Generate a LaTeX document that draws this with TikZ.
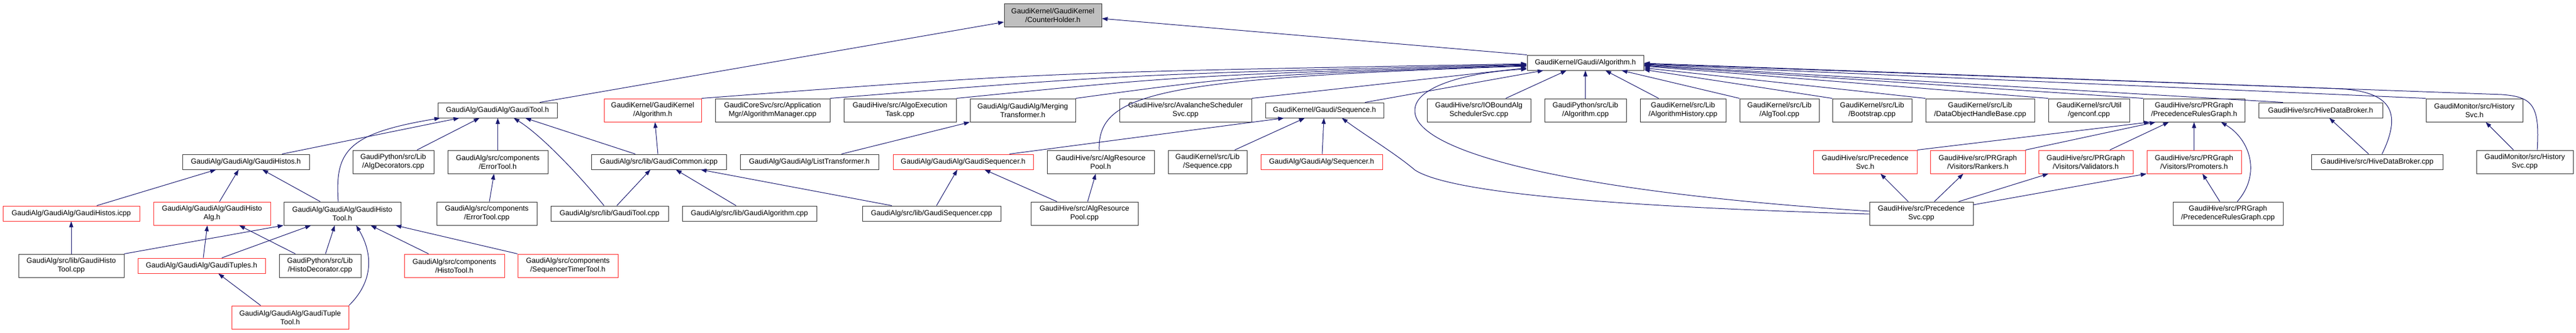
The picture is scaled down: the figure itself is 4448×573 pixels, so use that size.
\documentclass[tikz,border=0pt]{standalone}
\usepackage{fontspec}
\setmainfont{Liberation Sans}
\usetikzlibrary{arrows.meta}
\definecolor{edgec}{RGB}{25,25,112}
\definecolor{redb}{RGB}{255,40,40}
\definecolor{grayf}{RGB}{191,191,191}
\tikzset{
  nb/.style={draw=black!80, line width=1pt, rectangle, inner sep=0pt, align=center,
     font=\fontsize{12.6}{15}\selectfont},
  rb/.style={nb, draw=redb},
  e/.style={draw=edgec, line width=1pt, -{Triangle[length=10pt,width=7pt]}},
}
\begin{document}
\begin{tikzpicture}[x=1pt,y=-1pt]
\useasboundingbox (0,0) rectangle (4448,573);
% row 0
\node[nb, fill=grayf, minimum width=168pt, minimum height=40pt] (ch) at (1818,26) {GaudiKernel/GaudiKernel\\/CounterHolder.h};
% row 1
\node[nb, minimum width=201pt, minimum height=26pt] (alg) at (2737.5,108) {GaudiKernel/Gaudi/Algorithm.h};
% row 2
\node[nb, minimum width=206pt, minimum height=26pt] (gtool) at (859,190) {GaudiAlg/GaudiAlg/GaudiTool.h};
\node[rb, minimum width=168pt, minimum height=40pt] (kalg) at (1127,190) {GaudiKernel/GaudiKernel\\/Algorithm.h};
\node[nb, minimum width=198pt, minimum height=40pt] (amgr) at (1334,190) {GaudiCoreSvc/src/Application\\Mgr/AlgorithmManager.cpp};
\node[nb, minimum width=194pt, minimum height=40pt] (aexec) at (1554,190) {GaudiHive/src/AlgoExecution\\Task.cpp};
\node[nb, minimum width=182pt, minimum height=40pt] (mtrans) at (1766,190) {GaudiAlg/GaudiAlg/Merging\\Transformer.h};
\node[nb, minimum width=228pt, minimum height=40pt] (aval) at (2047,190) {GaudiHive/src/AvalancheScheduler\\Svc.cpp};
\node[nb, minimum width=204pt, minimum height=26pt] (seqh) at (2287,190) {GaudiKernel/Gaudi/Sequence.h};
\node[nb, minimum width=179pt, minimum height=40pt] (iob) at (2553.5,190) {GaudiHive/src/IOBoundAlg\\SchedulerSvc.cpp};
\node[nb, minimum width=141pt, minimum height=40pt] (pyalg) at (2737.5,190) {GaudiPython/src/Lib\\/Algorithm.cpp};
\node[nb, minimum width=148pt, minimum height=40pt] (ahist) at (2906,190) {GaudiKernel/src/Lib\\/AlgorithmHistory.cpp};
\node[nb, minimum width=137pt, minimum height=40pt] (atool) at (3072.5,190) {GaudiKernel/src/Lib\\/AlgTool.cpp};
\node[nb, minimum width=137pt, minimum height=40pt] (boot) at (3232.5,190) {GaudiKernel/src/Lib\\/Bootstrap.cpp};
\node[nb, minimum width=188pt, minimum height=40pt] (dohb) at (3419,190) {GaudiKernel/src/Lib\\/DataObjectHandleBase.cpp};
\node[nb, minimum width=140pt, minimum height=40pt] (genc) at (3607,190) {GaudiKernel/src/Util\\/genconf.cpp};
\node[nb, minimum width=175pt, minimum height=40pt] (prgh) at (3788.5,190) {GaudiHive/src/PRGraph\\/PrecedenceRulesGraph.h};
\node[nb, minimum width=214pt, minimum height=26pt] (hdbh) at (4007,190) {GaudiHive/src/HiveDataBroker.h};
\node[nb, minimum width=167pt, minimum height=40pt] (hsvch) at (4272.5,190) {GaudiMonitor/src/History\\Svc.h};
% row 3
\node[nb, minimum width=219pt, minimum height=26pt] (ghistos) at (424.5,279) {GaudiAlg/GaudiAlg/GaudiHistos.h};
\node[nb, minimum width=140pt, minimum height=40pt] (algdec) at (679,279) {GaudiPython/src/Lib\\/AlgDecorators.cpp};
\node[nb, minimum width=173pt, minimum height=40pt] (errh) at (859.5,279) {GaudiAlg/src/components\\/ErrorTool.h};
\node[nb, minimum width=233pt, minimum height=26pt] (gcommon) at (1137.5,279) {GaudiAlg/src/lib/GaudiCommon.icpp};
\node[nb, minimum width=239pt, minimum height=26pt] (ltrans) at (1397.5,279) {GaudiAlg/GaudiAlg/ListTransformer.h};
\node[rb, minimum width=242pt, minimum height=26pt] (gseqh) at (1663,279) {GaudiAlg/GaudiAlg/GaudiSequencer.h};
\node[nb, minimum width=185pt, minimum height=40pt] (arph) at (1900.5,279) {GaudiHive/src/AlgResource\\Pool.h};
\node[nb, minimum width=136pt, minimum height=40pt] (seqcpp) at (2085,279) {GaudiKernel/src/Lib\\/Sequence.cpp};
\node[rb, minimum width=210pt, minimum height=26pt] (seqrh) at (2282,279) {GaudiAlg/GaudiAlg/Sequencer.h};
\node[rb, minimum width=179pt, minimum height=40pt] (psvch) at (3220.5,279) {GaudiHive/src/Precedence\\Svc.h};
\node[rb, minimum width=164pt, minimum height=40pt] (rank) at (3415,279) {GaudiHive/src/PRGraph\\/Visitors/Rankers.h};
\node[rb, minimum width=163pt, minimum height=40pt] (valid) at (3601.5,279) {GaudiHive/src/PRGraph\\/Visitors/Validators.h};
\node[rb, minimum width=163pt, minimum height=40pt] (promo) at (3788.5,279) {GaudiHive/src/PRGraph\\/Visitors/Promoters.h};
\node[nb, minimum width=227pt, minimum height=26pt] (hdbcpp) at (4104.5,279) {GaudiHive/src/HiveDataBroker.cpp};
\node[nb, minimum width=167pt, minimum height=40pt] (hsvccpp) at (4359.5,279) {GaudiMonitor/src/History\\Svc.cpp};
% row 4
\node[rb, minimum width=236pt, minimum height=26pt] (ghicpp) at (123,368) {GaudiAlg/GaudiAlg/GaudiHistos.icpp};
\node[rb, minimum width=202pt, minimum height=40pt] (ghalg) at (366,368) {GaudiAlg/GaudiAlg/GaudiHisto\\Alg.h};
\node[nb, minimum width=202pt, minimum height=40pt] (ghtool) at (591,368) {GaudiAlg/GaudiAlg/GaudiHisto\\Tool.h};
\node[nb, minimum width=173pt, minimum height=40pt] (errcpp) at (840.5,368) {GaudiAlg/src/components\\/ErrorTool.cpp};
\node[nb, minimum width=203pt, minimum height=26pt] (gtoolcpp) at (1052.5,368) {GaudiAlg/src/lib/GaudiTool.cpp};
\node[nb, minimum width=232pt, minimum height=26pt] (galgcpp) at (1294,368) {GaudiAlg/src/lib/GaudiAlgorithm.cpp};
\node[nb, minimum width=239pt, minimum height=26pt] (gseqcpp) at (1608.5,368) {GaudiAlg/src/lib/GaudiSequencer.cpp};
\node[nb, minimum width=185pt, minimum height=40pt] (arpcpp) at (1872.5,368) {GaudiHive/src/AlgResource\\Pool.cpp};
\node[nb, minimum width=179pt, minimum height=40pt] (psvccpp) at (3317.5,368) {GaudiHive/src/Precedence\\Svc.cpp};
\node[nb, minimum width=190pt, minimum height=40pt] (prgcpp) at (3847,368) {GaudiHive/src/PRGraph\\/PrecedenceRulesGraph.cpp};
% row 5
\node[nb, minimum width=182pt, minimum height=40pt] (ghtcpp) at (123,458) {GaudiAlg/src/lib/GaudiHisto\\Tool.cpp};
\node[rb, minimum width=220pt, minimum height=26pt] (gtuples) at (348,458) {GaudiAlg/GaudiAlg/GaudiTuples.h};
\node[nb, minimum width=141pt, minimum height=40pt] (histodec) at (552.5,458) {GaudiPython/src/Lib\\/HistoDecorator.cpp};
\node[rb, minimum width=173pt, minimum height=40pt] (htool) at (784.5,458) {GaudiAlg/src/components\\/HistoTool.h};
\node[rb, minimum width=173pt, minimum height=40pt] (sttool) at (980.5,458) {GaudiAlg/src/components\\/SequencerTimerTool.h};
% row 6
\node[rb, minimum width=202pt, minimum height=40pt] (gttool) at (501,547) {GaudiAlg/GaudiAlg/GaudiTuple\\Tool.h};

% ---- edges ----
\draw[e] (932,0 |- gtool.north) -- (ch.west |- 0,38);
\draw[e] (alg.north west) -- (ch.east |- 0,32);
% into Algorithm.h from the left
\draw[e] (kalg.north east) .. controls (1800,125) .. (alg.west |- 0,110);
\draw[e] (amgr.north east) .. controls (1950,128) .. (alg.west |- 0,111);
\draw[e] (aexec.north east) .. controls (2050,130) .. (alg.west |- 0,112);
\draw[e] (mtrans.north east) .. controls (2150,130) .. (alg.west |- 0,113);
\draw[e] (1898,0 |- arph.north) .. controls (1895,160) and (2000,135) .. (alg.west |- 0,114);
\draw[e] (aval.north east) -- (alg.west |- 0,117);
\draw[e] (psvccpp.west |- 0,364) .. controls (2700,330) and (2440,260) .. (2443,190) .. controls (2443,150) and (2530,125) .. (alg.west |- 0,119);
\draw[e] (2357,0 |- seqh.north) -- (2665,0 |- alg.south);
\draw[e] (2600,0 |- iob.north) -- (2705,0 |- alg.south);
\draw[e] (pyalg.north) -- (pyalg.north |- alg.south);
\draw[e] (2864,0 |- ahist.north) -- (2772,0 |- alg.south);
\draw[e] (atool.north west) -- (2800,0 |- alg.south);
% into Algorithm.h from the right
\draw[e] (boot.north west) -- (alg.east |- 0,120);
\draw[e] (dohb.north west) -- (alg.east |- 0,117);
\draw[e] (genc.north west) -- (alg.east |- 0,114);
\draw[e] (prgh.north west) -- (alg.east |- 0,113);
\draw[e] (3942,0 |- hdbh.north) -- (alg.east |- 0,112);
\draw[e] (hsvch.north west) -- (alg.east |- 0,111);
\draw[e] (4113,0 |- hdbcpp.north) .. controls (4150,190) and (4125,158) .. (4040,153) -- (alg.east |- 0,110);
\draw[e] (4381,0 |- hsvccpp.north) .. controls (4386,180) and (4372,167) .. (4320,163) -- (alg.east |- 0,109);
% into GaudiTool.h
\draw[e] (487,0 |- ghistos.north) -- (793,0 |- gtool.south);
\draw[e] (584,0 |- ghtool.north) .. controls (578,260) and (600,230) .. (760,0 |- gtool.south);
\draw[e] (720,0 |- algdec.north) -- (828,0 |- gtool.south);
\draw[e] (errh.north) -- (errh.north |- gtool.south);
\draw[e] (1043,0 |- gtoolcpp.north) .. controls (990,290) and (930,230) .. (887,0 |- gtool.south);
\draw[e] (1097,0 |- gcommon.north) -- (907,0 |- gtool.south);
% GaudiHistos.h
\draw[e] (167,0 |- ghicpp.north) -- (373,0 |- ghistos.south);
\draw[e] (379,0 |- ghalg.north) -- (412,0 |- ghistos.south);
\draw[e] (553,0 |- ghtool.north) -- (453,0 |- ghistos.south);
% lower left
\draw[e] (ghtcpp.north) -- (ghtcpp.north |- ghicpp.south);
\draw[e] (351,0 |- gtuples.north) -- (358,0 |- ghalg.south);
\draw[e] (510,0 |- histodec.north) -- (413,0 |- ghalg.south);
\draw[e] (ghtcpp.north east) -- (ghtool.south west);
\draw[e] (383,0 |- gtuples.north) -- (537,0 |- ghtool.south);
\draw[e] (562,0 |- histodec.north) -- (578,0 |- ghtool.south);
\draw[e] (740,0 |- htool.north) -- (640,0 |- ghtool.south);
\draw[e] (sttool.north west) -- (683,0 |- ghtool.south);
\draw[e] (gttool.north east) .. controls (650,480) and (640,430) .. (615,0 |- ghtool.south);
\draw[e] (450,0 |- gttool.north) -- (377,0 |- gtuples.south);
\draw[e] (845,0 |- errcpp.north) -- (853,0 |- errh.south);
% GaudiCommon
\draw[e] (1065,0 |- gtoolcpp.north) -- (1123,0 |- gcommon.south);
\draw[e] (1271,0 |- galgcpp.north) -- (1167,0 |- gcommon.south);
\draw[e] (1540,0 |- gseqcpp.north) -- (1210,0 |- gcommon.south);
\draw[e] (1136,0 |- gcommon.north) -- (1131,0 |- kalg.south);
\draw[e] (1453,0 |- ltrans.north) -- (mtrans.south west);
\draw[e] (1617,0 |- gseqcpp.north) -- (1653,0 |- gseqh.south);
\draw[e] (1825,0 |- arpcpp.north) -- (1700,0 |- gseqh.south);
% Sequence.h
\draw[e] (1743,0 |- gseqh.north) -- (2217,0 |- seqh.south);
\draw[e] (2132,0 |- seqcpp.north) -- (2253,0 |- seqh.south);
\draw[e] (2283,0 |- seqrh.north) -- (2286,0 |- seqh.south);
\draw[e] (psvccpp.west |- 0,369) .. controls (2750,355) and (2500,330) .. (2443,293) .. controls (2410,265) and (2360,235) .. (2317,0 |- seqh.south);
\draw[e] (1878,0 |- arpcpp.north) -- (1892,0 |- arph.south);
% Precedence
\draw[e] (3295,0 |- psvccpp.north) -- (3247,0 |- psvch.south);
\draw[e] (3340,0 |- psvccpp.north) -- (3390,0 |- rank.south);
\draw[e] (3382,0 |- psvccpp.north) -- (3537,0 |- valid.south);
\draw[e] (psvccpp.east |- 0,353) -- (promo.south west);
\draw[e] (psvch.north east) -- (3712,0 |- prgh.south);
\draw[e] (rank.north east) -- (3722,0 |- prgh.south);
\draw[e] (3643,0 |- valid.north) -- (3745,0 |- prgh.south);
\draw[e] (promo.north) -- (promo.north |- prgh.south);
\draw[e] (3863,0 |- prgcpp.north) .. controls (3905,300) and (3885,240) .. (3835,0 |- prgh.south);
\draw[e] (3833,0 |- prgcpp.north) -- (3803,0 |- promo.south);
\draw[e] (4090,0 |- hdbcpp.north) -- (4022,0 |- hdbh.south);
\draw[e] (4340,0 |- hsvccpp.north) -- (4292,0 |- hsvch.south);
\end{tikzpicture}
\end{document}
